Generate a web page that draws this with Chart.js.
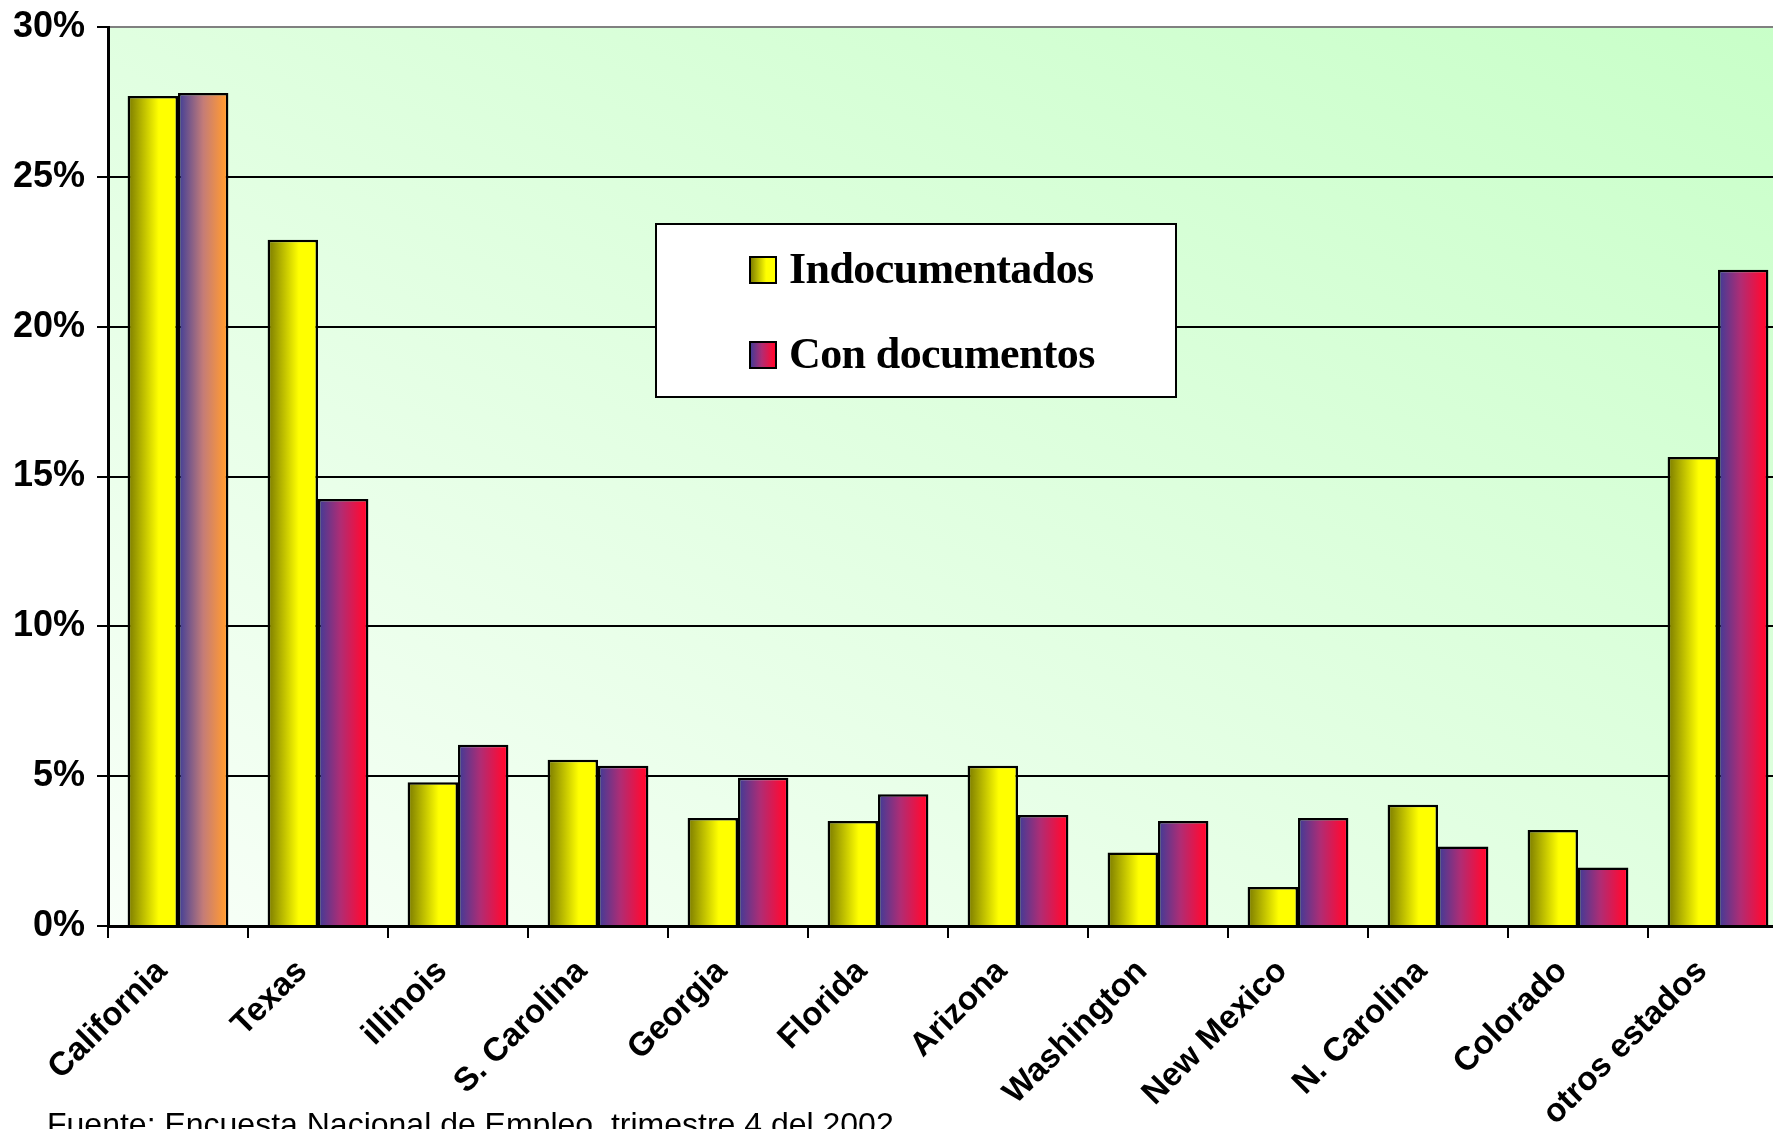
<!DOCTYPE html>
<html>
<head>
<meta charset="utf-8">
<script src="https://cdn.jsdelivr.net/npm/chart.js@4.4.1/dist/chart.umd.min.js"></script>
<style>
  html, body { margin: 0; padding: 0; background: #fff; overflow: hidden; }
  #wrap { position: relative; width: 1773px; height: 1129px; overflow: hidden; }
  #chart { position: absolute; left: 0; top: 0; }
  #fuente { position: absolute; left: 47px; top: 1106px; font: 32px "Liberation Sans", Arial, sans-serif; white-space: nowrap; color: #000; }
</style>
</head>
<body>
<div id="wrap">
  <canvas id="chart" width="1788" height="1129"></canvas>
  <div id="fuente">Fuente: Encuesta Nacional de Empleo, trimestre 4 del 2002</div>
</div>
<script>
var estados = ['California', 'Texas', 'illinois', 'S. Carolina', 'Georgia', 'Florida', 'Arizona',
    'Washington', 'New Mexico', 'N. Carolina', 'Colorado', 'otros estados'];
var indocumentados = [27.7, 22.9, 4.8, 5.55, 3.6, 3.5, 5.35, 2.45, 1.3, 4.05, 3.2, 15.65];
var conDocumentos = [27.8, 14.25, 6.05, 5.35, 4.95, 4.4, 3.7, 3.5, 3.6, 2.65, 1.95, 21.9];
var yTicks = [0, 5, 10, 15, 20, 25, 30];

var groupPct = 0.72;

function fillFor(ctx, x0, x1, which) {
    var g = ctx.createLinearGradient(x0, 0, x1, 0);
    if (which === 'yellow') {
        g.addColorStop(0, '#7a7a00');
        g.addColorStop(0.62, '#ffff00');
        g.addColorStop(1, '#ffff00');
    } else if (which === 'orange') {
        g.addColorStop(0, '#3c3c98');
        g.addColorStop(0.5, '#c47c78');
        g.addColorStop(0.92, '#ff9933');
        g.addColorStop(1, '#ff9933');
    } else {
        g.addColorStop(0, '#3c3c98');
        g.addColorStop(0.45, '#b02c74');
        g.addColorStop(0.9, '#ff0a33');
        g.addColorStop(1, '#ff0033');
    }
    return g;
}

// horizontal gradient on each bar, worked out from the category scale
function barColor(c) {
    var flat = c.datasetIndex === 0 ? '#ffff00' : '#ff0033';
    var chart = c.chart, xs = chart.scales.x;
    if (!xs || c.type !== 'data') return flat;
    var center = xs.getPixelForValue(c.dataIndex);
    var groupW = xs.width / estados.length * groupPct;
    if (!isFinite(center) || !isFinite(groupW) || groupW <= 0) return flat;
    var bw = groupW / 2;
    var x0 = center - groupW / 2 + c.datasetIndex * bw;
    var which = c.datasetIndex === 0 ? 'yellow' : (c.dataIndex === 0 ? 'orange' : 'red');
    return fillFor(chart.ctx, x0, x0 + bw, which);
}

// plot background: diagonal light green wash
var plotBg = {
    id: 'plotBg',
    beforeDraw: function (chart) {
        var a = chart.chartArea, ctx = chart.ctx;
        var W = a.right - a.left, H = a.bottom - a.top;
        var t = 2 * W * H / (W * W + H * H);
        var g = ctx.createLinearGradient(a.left, a.bottom, a.left + t * H, a.bottom - t * W);
        g.addColorStop(0, '#f8fff8');
        g.addColorStop(1, '#c8ffc8');
        ctx.save();
        ctx.fillStyle = g;
        ctx.fillRect(a.left, a.top, W, H);
        ctx.restore();
    }
};

// boxed legend inside the plot
var boxLegend = {
    id: 'boxLegend',
    afterDatasetsDraw: function (chart) {
        var ctx = chart.ctx;
        ctx.save();
        ctx.fillStyle = '#fff';
        ctx.fillRect(656, 224, 520, 173);
        ctx.lineWidth = 2;
        ctx.strokeStyle = '#000';
        ctx.strokeRect(656, 224, 520, 173);
        var rows = [270, 355];
        chart.data.datasets.forEach(function (ds, di) {
            var y = rows[di];
            ctx.fillStyle = fillFor(ctx, 750, 776, di === 0 ? 'yellow' : 'red');
            ctx.fillRect(750, y - 13, 26, 26);
            ctx.lineWidth = 2;
            ctx.strokeRect(750, y - 13, 26, 26);
            ctx.fillStyle = '#000';
            ctx.font = 'bold 44px "Liberation Serif", "Times New Roman", serif';
            ctx.textBaseline = 'middle';
            ctx.textAlign = 'left';
            ctx.letterSpacing = '-0.6px';
            ctx.fillText(ds.label, 789, y + 2);
        });
        ctx.restore();
    }
};

var ctx = document.getElementById('chart').getContext('2d');
new Chart(ctx, {
    type: 'bar',
    data: {
        labels: estados,
        datasets: [{
            label: 'Indocumentados',
            data: indocumentados,
            backgroundColor: barColor,
            borderColor: '#000',
            borderWidth: 2.5,
            categoryPercentage: groupPct,
            barPercentage: 1
        }, {
            label: 'Con documentos',
            data: conDocumentos,
            backgroundColor: barColor,
            borderColor: '#000',
            borderWidth: 2.5,
            categoryPercentage: groupPct,
            barPercentage: 1
        }]
    },
    options: {
        responsive: false,
        animation: false,
        devicePixelRatio: 1,
        layout: { padding: { top: 27, right: 0, left: 0, bottom: 0 } },
        plugins: { legend: { display: false }, tooltip: { enabled: false } },
        scales: {
            x: {
                grid: { offset: true, drawOnChartArea: false, drawTicks: true, tickLength: 12, tickColor: '#000', lineWidth: 2 },
                border: { color: '#000', width: 3 },
                ticks: {
                    color: '#000',
                    font: { family: 'Liberation Sans', size: 33, weight: 'bold' },
                    maxRotation: 45, minRotation: 45, padding: 14, autoSkip: false,
                    labelOffset: -16
                },
                afterFit: function (s) { s.height = 203; }
            },
            y: {
                min: 0, max: 30,
                afterBuildTicks: function (s) { s.ticks = yTicks.map(function (v) { return { value: v }; }); },
                grid: {
                    color: function (c) { return c.tick && c.tick.value === 30 ? '#808080' : '#000'; },
                    lineWidth: 2, tickLength: 11, tickColor: '#000'
                },
                border: { color: '#000', width: 3 },
                ticks: {
                    color: '#000',
                    font: { family: 'Liberation Sans', size: 36, weight: 'bold' },
                    padding: 12,
                    callback: function (v) { return v + '%'; }
                },
                afterFit: function (s) {
                    s.width = 108;
                    s.paddingTop = 0;
                    s.paddingBottom = 0;
                }
            }
        }
    },
    plugins: [plotBg, boxLegend]
});
</script>
</body>
</html>
